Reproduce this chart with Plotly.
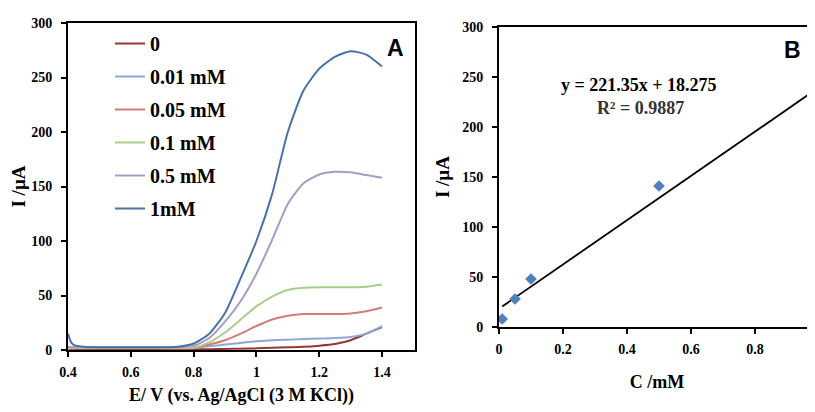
import plotly.graph_objects as go

# ---------- Panel A data ----------
E = [0.40, 0.41, 0.42, 0.45, 0.50, 0.60, 0.70, 0.75, 0.80, 0.85, 0.90, 0.95,
     1.00, 1.05, 1.10, 1.15, 1.20, 1.25, 1.30, 1.35, 1.40]
I_0 = [1.5, 1.0, 0.8, 0.6, 0.5, 0.5, 0.5, 0.5, 0.5, 0.8, 1.0, 1.2,
       1.5, 2.0, 2.5, 3.0, 4.0, 5.5, 9.0, 15.0, 21.0]
I_001 = [3.0, 2.5, 2.2, 2.0, 2.0, 2.0, 2.0, 2.0, 2.5, 3.5, 5.0, 6.5,
         8.0, 9.0, 9.5, 10.0, 10.5, 11.0, 12.0, 15.0, 22.0]
I_005 = [2.0, 1.5, 1.5, 1.5, 1.5, 1.5, 1.5, 1.5, 1.8, 5.0, 9.0, 15.0,
         22.0, 28.0, 31.5, 33.0, 33.0, 33.0, 33.5, 35.5, 39.0]
I_01 = [2.0, 1.8, 1.8, 1.8, 1.8, 1.8, 1.8, 1.8, 2.2, 7.0, 16.0, 28.0,
        40.0, 49.0, 55.0, 57.0, 57.5, 57.5, 57.5, 58.0, 60.0]
I_05 = [3.0, 2.5, 2.5, 2.5, 2.5, 2.5, 2.5, 2.6, 4.0, 11.0, 26.0, 45.0,
        70.0, 101.0, 134.0, 153.0, 161.0, 163.5, 163.0, 160.5, 158.0]
I_1 = [15.0, 7.0, 4.5, 3.0, 2.5, 2.5, 2.5, 3.0, 6.0, 15.0, 34.0, 66.0,
       100.0, 143.0, 200.0, 238.0, 258.0, 269.0, 274.0, 271.0, 260.0]

series_names = ["0", "0.01 mM", "0.05 mM", "0.1 mM", "0.5 mM", "1mM"]
series_vals = [I_0, I_001, I_005, I_01, I_05, I_1]
series_colors = ["#953735", "#8DA8D6", "#D47C7A", "#A9CF8A", "#A99BC6", "#4A72A8"]

xticksA = [0.4, 0.6, 0.8, 1.0, 1.2, 1.4]
xticklabelsA = ["0.4", "0.6", "0.8", "1", "1.2", "1.4"]
yticks = [0, 50, 100, 150, 200, 250, 300]

# ---------- Panel B data ----------
C = [0.01, 0.05, 0.1, 0.5, 1.0]
I_peak = [8.0, 28.0, 48.0, 141.0, 234.0]
slope = 221.35
intercept = 18.275
r2 = 0.9887
xticksB = [0, 0.2, 0.4, 0.6, 0.8]
xticklabelsB = ["0", "0.2", "0.4", "0.6", "0.8"]

fit_x = [C[0], C[-1]]
fit_y = [slope * c + intercept for c in fit_x]

serif = "Liberation Serif"
black = "#000000"

# the page body has an 8px margin: size the figure to the visible window
OFF = 8
W, H = 815 - OFF, 412 - OFF


def fx(sx):
    return (sx - OFF) / W


def fy(sy):
    return 1 - (sy - OFF) / H


fig = go.Figure()

for name, vals, col in zip(series_names, series_vals, series_colors):
    fig.add_trace(go.Scatter(
        x=E, y=vals, mode="lines", name=name,
        line=dict(color=col, width=2, shape="spline", smoothing=0.6),
        legendgroup=name, xaxis="x", yaxis="y"))

fig.add_trace(go.Scatter(
    x=fit_x, y=fit_y, mode="lines", line=dict(color=black, width=1.8),
    showlegend=False, xaxis="x2", yaxis="y2"))
fig.add_trace(go.Scatter(
    x=C, y=I_peak, mode="markers",
    marker=dict(symbol="diamond", size=9, color="#4F81BD"),
    showlegend=False, xaxis="x2", yaxis="y2", cliponaxis=True))

axfont = dict(family=serif, size=14, color=black, weight="bold")
titlefont = dict(family=serif, size=18, color=black, weight="bold")
ytitlefont = dict(family=serif, size=19, color=black, weight="bold")

common = dict(showgrid=False, zeroline=False, showline=True, linecolor=black,
              linewidth=2, ticks="outside", ticklen=5, tickcolor=black,
              tickwidth=2, tickfont=axfont, automargin=False)

fig.update_layout(
    width=W, height=H,
    margin=dict(l=0, r=0, t=0, b=0, pad=0),
    paper_bgcolor="white", plot_bgcolor="white",
    showlegend=True,
    legend=dict(x=fx(110), y=fy(24), xanchor="left", yanchor="top",
                bgcolor="rgba(0,0,0,0)", borderwidth=0,
                font=dict(family=serif, size=20, color=black, weight="bold"),
                tracegroupgap=4, itemwidth=30),
    xaxis=dict(domain=[fx(68), fx(415)], range=[0.4, 1.505],
               tickvals=xticksA, ticktext=xticklabelsA, mirror=True,
               ticklabelstandoff=3,
               title=dict(text="E/ V (vs. Ag/AgCl (3 M KCl))", font=titlefont,
                          standoff=10),
               anchor="y", **common),
    yaxis=dict(domain=[fy(350), fy(23)], range=[0, 300],
               tickvals=yticks, mirror=True, ticklabelstandoff=6,
               title=dict(text="I /µA", font=ytitlefont, standoff=8),
               anchor="x", **common),
    xaxis2=dict(domain=[fx(499), 1.0], range=[0, (815 - 499) / 320],
                tickvals=xticksB, ticktext=xticklabelsB, mirror=True,
                ticklabelstandoff=3,
                title=dict(text="C /mM", font=titlefont, standoff=20),
                anchor="y2", **common),
    yaxis2=dict(domain=[fy(327), fy(27)], range=[0, 300],
                tickvals=yticks, mirror=False, ticklabelstandoff=6,
                title=dict(text="I /µA", font=ytitlefont, standoff=8),
                anchor="x2", **common),
    annotations=[
        dict(text="A", x=fx(395), y=fy(48), xref="paper", yref="paper",
             xanchor="center", yanchor="middle", showarrow=False,
             font=dict(family="Liberation Sans", size=23, color=black,
                       weight="bold")),
        dict(text="B", x=fx(792), y=fy(50), xref="paper", yref="paper",
             xanchor="center", yanchor="middle", showarrow=False,
             font=dict(family="Liberation Sans", size=23, color=black,
                       weight="bold")),
        dict(text=f"y = {slope}x + {intercept}", x=fx(639), y=fy(85),
             xref="paper", yref="paper", xanchor="center", yanchor="middle",
             showarrow=False,
             font=dict(family=serif, size=18, color=black, weight="bold")),
        dict(text=f"R² = {r2}", x=fx(640), y=fy(108),
             xref="paper", yref="paper", xanchor="center", yanchor="middle",
             showarrow=False,
             font=dict(family=serif, size=18, color="#333333", weight="bold")),
    ],
)

fig.write_html("out.html", config={"displayModeBar": False})
